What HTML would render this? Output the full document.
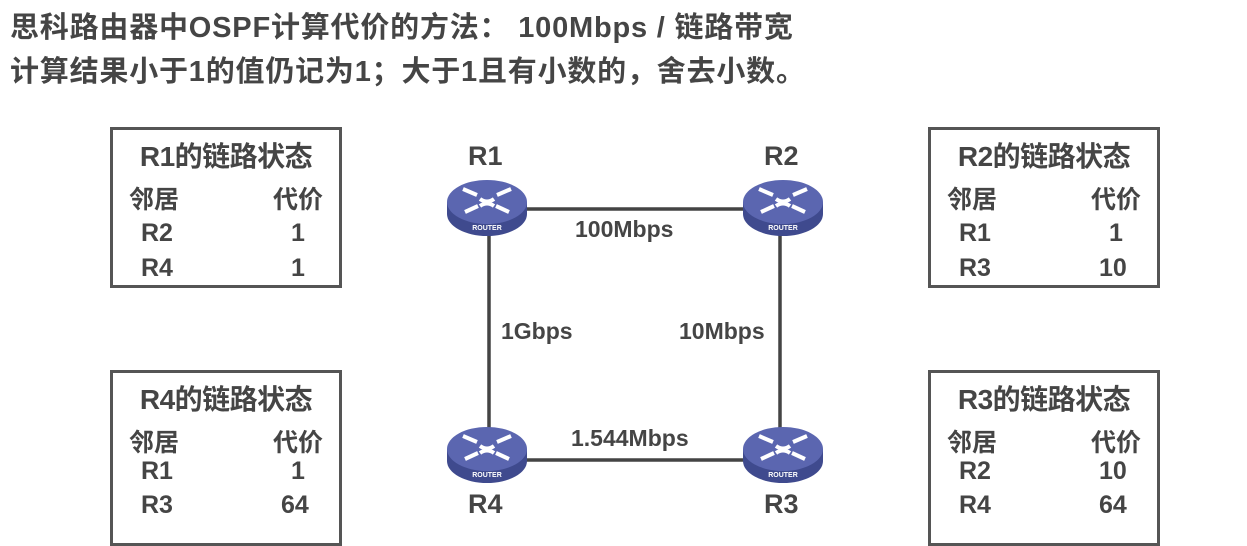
<!DOCTYPE html>
<html><head><meta charset="utf-8"><style>
body{margin:0;width:1247px;height:528px;background:#fff;overflow:hidden;position:relative;font-family:"Liberation Sans","Noto Sans CJK SC",sans-serif;color:#454545;font-weight:bold}
.t{position:absolute;white-space:nowrap}
.box{position:absolute;border:3px solid #555;width:226px;box-sizing:content-box}
.box .h{position:absolute;left:0;width:100%;top:5px;text-align:center;font-size:28px;letter-spacing:-0.5px}
.box .r{position:absolute;font-size:25px}
</style></head><body>
<div class="t" style="left:10px;top:4px;font-size:29px;letter-spacing:0.8px">思科路由器中OSPF计算代价的方法： 100Mbps / 链路带宽</div>
<div class="t" style="left:10px;top:48px;font-size:29px;letter-spacing:0.8px">计算结果小于1的值仍记为1；大于1且有小数的，舍去小数。</div>

<div class="box" style="left:110px;top:127px;height:155px">
 <div class="h">R1的链路状态</div>
 <div class="r" style="left:16px;top:50px">邻居</div><div class="r" style="left:160px;top:50px">代价</div>
 <div class="r" style="left:28px;top:89px">R2</div><div class="r" style="left:178px;top:89px">1</div>
 <div class="r" style="left:28px;top:124px">R4</div><div class="r" style="left:178px;top:124px">1</div>
</div>
<div class="box" style="left:110px;top:370px;height:170px">
 <div class="h">R4的链路状态</div>
 <div class="r" style="left:16px;top:50px">邻居</div><div class="r" style="left:160px;top:50px">代价</div>
 <div class="r" style="left:28px;top:84px">R1</div><div class="r" style="left:178px;top:84px">1</div>
 <div class="r" style="left:28px;top:118px">R3</div><div class="r" style="left:168px;top:118px">64</div>
</div>
<div class="box" style="left:928px;top:127px;height:155px">
 <div class="h">R2的链路状态</div>
 <div class="r" style="left:16px;top:50px">邻居</div><div class="r" style="left:160px;top:50px">代价</div>
 <div class="r" style="left:28px;top:89px">R1</div><div class="r" style="left:178px;top:89px">1</div>
 <div class="r" style="left:28px;top:124px">R3</div><div class="r" style="left:168px;top:124px">10</div>
</div>
<div class="box" style="left:928px;top:370px;height:170px">
 <div class="h">R3的链路状态</div>
 <div class="r" style="left:16px;top:50px">邻居</div><div class="r" style="left:160px;top:50px">代价</div>
 <div class="r" style="left:28px;top:84px">R2</div><div class="r" style="left:168px;top:84px">10</div>
 <div class="r" style="left:28px;top:118px">R4</div><div class="r" style="left:168px;top:118px">64</div>
</div>

<svg width="1247" height="528" style="position:absolute;left:0;top:0">
<defs>
<g id="rt">
 <path d="M-40 0 v12 a40 22 0 0 0 80 0 v-12 z" fill="#3f4a8e"/>
 <ellipse cx="0" cy="0" rx="40" ry="22" fill="#5b66b0"/>
 <g stroke="#fff" stroke-width="4" fill="none">
  <path d="M-24 -13 l14 6 M-22 10 l13 -6 M24 -13 l-14 6 M22 10 l-13 -6 M-7 -3 q7 5 14 0 M-7 4 q7 -5 14 0"/>
 </g>
 <text x="0" y="28" text-anchor="middle" font-size="7" fill="#fff" font-family="Liberation Sans" font-weight="bold">ROUTER</text>
</g>
</defs>
<g stroke="#444" stroke-width="3.5">
 <line x1="487" y1="209" x2="782" y2="209"/>
 <line x1="489" y1="209" x2="489" y2="460"/>
 <line x1="780" y1="209" x2="780" y2="460"/>
 <line x1="487" y1="460" x2="782" y2="460"/>
</g>
<use href="#rt" x="487" y="202"/>
<use href="#rt" x="783" y="202"/>
<use href="#rt" x="487" y="449"/>
<use href="#rt" x="783" y="449"/>
</svg>
<div class="t" style="left:468px;top:141px;font-size:27px">R1</div>
<div class="t" style="left:764px;top:141px;font-size:27px">R2</div>
<div class="t" style="left:468px;top:489px;font-size:27px">R4</div>
<div class="t" style="left:764px;top:489px;font-size:27px">R3</div>
<div class="t" style="left:575px;top:216px;font-size:23px">100Mbps</div>
<div class="t" style="left:501px;top:318px;font-size:23px">1Gbps</div>
<div class="t" style="left:679px;top:318px;font-size:23px">10Mbps</div>
<div class="t" style="left:571px;top:425px;font-size:23px">1.544Mbps</div>
</body></html>
